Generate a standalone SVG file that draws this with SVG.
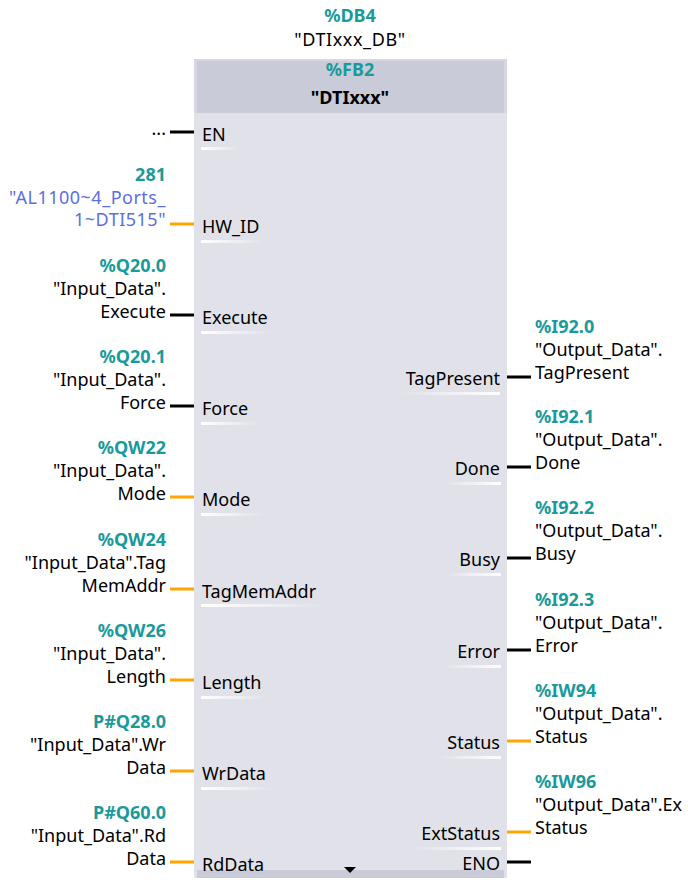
<svg xmlns="http://www.w3.org/2000/svg" width="688" height="887" viewBox="0 0 688 887">
<style>
text{font-family:"Noto Sans","Open Sans","Liberation Sans",sans-serif;font-size:18px;fill:#000}
.addr{fill:#1a9a9a;font-weight:bold}
.hw{fill:#5b6fe0;letter-spacing:0.5px}
.r{text-anchor:end}
.c{text-anchor:middle}
.wb{stroke:#000;stroke-width:3}
.wo{stroke:#ffa500;stroke-width:3}
</style>
<defs>
<linearGradient id="ul" x1="0" x2="1" y1="0" y2="0"><stop offset="0" stop-color="#fff"/><stop offset="1" stop-color="#fff" stop-opacity="0"/></linearGradient>
<linearGradient id="ur" x1="0" x2="1" y1="0" y2="0"><stop offset="0" stop-color="#fff" stop-opacity="0"/><stop offset="1" stop-color="#fff"/></linearGradient>
</defs>
<g id="instance">
<text class="addr c" x="350" y="22">%DB4</text>
<text class="c" x="350" y="46" letter-spacing="0.6">"DTIxxx_DB"</text>
</g>
<g id="block">
<rect x="194" y="59" width="313" height="819" fill="#e1e1ea"/>
<rect x="194" y="59" width="313" height="54" fill="#d6d7e2"/>
<rect x="197" y="61" width="307" height="52" fill="#c9cbd8"/>
<rect x="197" y="870" width="307" height="8" fill="#c9cbd8"/>
<text class="addr c" x="350" y="76">%FB2</text>
<text class="c" x="350" y="104" font-weight="bold">"DTIxxx"</text>
<path d="M344 867 L356 867 L350 873 Z" fill="#000"/>
</g>
<g id="connectors">
<line class="wb" x1="170" y1="132" x2="194" y2="132"/>
<line class="wo" x1="170" y1="224" x2="194" y2="224"/>
<line class="wb" x1="170" y1="315" x2="194" y2="315"/>
<line class="wb" x1="170" y1="406" x2="194" y2="406"/>
<line class="wo" x1="170" y1="497" x2="194" y2="497"/>
<line class="wo" x1="170" y1="589" x2="194" y2="589"/>
<line class="wo" x1="170" y1="680" x2="194" y2="680"/>
<line class="wo" x1="170" y1="771" x2="194" y2="771"/>
<line class="wo" x1="170" y1="862" x2="194" y2="862"/>
<line class="wb" x1="507" y1="377" x2="531" y2="377"/>
<line class="wb" x1="507" y1="467" x2="531" y2="467"/>
<line class="wb" x1="507" y1="558" x2="531" y2="558"/>
<line class="wb" x1="507" y1="650" x2="531" y2="650"/>
<line class="wo" x1="507" y1="741" x2="531" y2="741"/>
<line class="wo" x1="507" y1="832" x2="531" y2="832"/>
<line class="wb" x1="507" y1="862" x2="531" y2="862"/>
</g>
<g id="pin-EN">
<text x="202" y="141">EN</text>
<rect x="201" y="147" width="38" height="3" fill="url(#ul)"/>
<text class="r" x="166" y="135">...</text>
</g>
<g id="pin-HW_ID">
<text x="202" y="233">HW_ID</text>
<rect x="201" y="240" width="64" height="3" fill="url(#ul)"/>
<text class="addr r" x="166" y="181">281</text>
<text class="hw r" x="166" y="204">"AL1100~4_Ports_</text>
<text class="hw r" x="166" y="226">1~DTI515"</text>
</g>
<g id="pin-Execute">
<text x="202" y="324">Execute</text>
<rect x="201" y="331" width="70" height="3" fill="url(#ul)"/>
<text class="addr r" x="166" y="272">%Q20.0</text>
<text class="r" x="166" y="295">"Input_Data".</text>
<text class="r" x="166" y="318">Execute</text>
</g>
<g id="pin-Force">
<text x="202" y="415">Force</text>
<rect x="201" y="422" width="58" height="3" fill="url(#ul)"/>
<text class="addr r" x="166" y="363">%Q20.1</text>
<text class="r" x="166" y="386">"Input_Data".</text>
<text class="r" x="166" y="409">Force</text>
</g>
<g id="pin-Mode">
<text x="202" y="506">Mode</text>
<rect x="201" y="513" width="62" height="3" fill="url(#ul)"/>
<text class="addr r" x="166" y="454">%QW22</text>
<text class="r" x="166" y="477">"Input_Data".</text>
<text class="r" x="166" y="500">Mode</text>
</g>
<g id="pin-TagMemAddr">
<text x="202" y="598">TagMemAddr</text>
<rect x="201" y="604" width="124" height="3" fill="url(#ul)"/>
<text class="addr r" x="166" y="546">%QW24</text>
<text class="r" x="166" y="569">"Input_Data".Tag</text>
<text class="r" x="166" y="592">MemAddr</text>
</g>
<g id="pin-Length">
<text x="202" y="689">Length</text>
<rect x="201" y="696" width="68" height="3" fill="url(#ul)"/>
<text class="addr r" x="166" y="637">%QW26</text>
<text class="r" x="166" y="660">"Input_Data".</text>
<text class="r" x="166" y="683">Length</text>
</g>
<g id="pin-WrData">
<text x="202" y="780">WrData</text>
<rect x="201" y="787" width="74" height="3" fill="url(#ul)"/>
<text class="addr r" x="166" y="728">P#Q28.0</text>
<text class="r" x="166" y="751">"Input_Data".Wr</text>
<text class="r" x="166" y="774">Data</text>
</g>
<g id="pin-RdData">
<text x="202" y="871">RdData</text>
<text class="addr r" x="166" y="819">P#Q60.0</text>
<text class="r" x="166" y="842">"Input_Data".Rd</text>
<text class="r" x="166" y="865">Data</text>
</g>
<g id="pin-TagPresent">
<text class="r" x="500" y="385">TagPresent</text>
<rect x="400" y="392" width="100" height="3" fill="url(#ur)"/>
<text class="addr" x="535" y="333">%I92.0</text>
<text x="535" y="356">"Output_Data".</text>
<text x="535" y="379">TagPresent</text>
</g>
<g id="pin-Done">
<text class="r" x="500" y="475">Done</text>
<rect x="443" y="482" width="58" height="3" fill="url(#ur)"/>
<text class="addr" x="535" y="423">%I92.1</text>
<text x="535" y="446">"Output_Data".</text>
<text x="535" y="469">Done</text>
</g>
<g id="pin-Busy">
<text class="r" x="500" y="566">Busy</text>
<rect x="445" y="573" width="56" height="3" fill="url(#ur)"/>
<text class="addr" x="535" y="514">%I92.2</text>
<text x="535" y="537">"Output_Data".</text>
<text x="535" y="560">Busy</text>
</g>
<g id="pin-Error">
<text class="r" x="500" y="658">Error</text>
<rect x="443" y="665" width="58" height="3" fill="url(#ur)"/>
<text class="addr" x="535" y="606">%I92.3</text>
<text x="535" y="629">"Output_Data".</text>
<text x="535" y="652">Error</text>
</g>
<g id="pin-Status">
<text class="r" x="500" y="749">Status</text>
<rect x="438" y="756" width="63" height="3" fill="url(#ur)"/>
<text class="addr" x="535" y="697">%IW94</text>
<text x="535" y="720">"Output_Data".</text>
<text x="535" y="743">Status</text>
</g>
<g id="pin-ExtStatus">
<text class="r" x="500" y="840">ExtStatus</text>
<rect x="410" y="847" width="91" height="3" fill="url(#ur)"/>
<text class="addr" x="535" y="788">%IW96</text>
<text x="535" y="811">"Output_Data".Ex</text>
<text x="535" y="834">Status</text>
</g>
<g id="pin-ENO">
<text class="r" x="500" y="870">ENO</text>
</g>
</svg>
